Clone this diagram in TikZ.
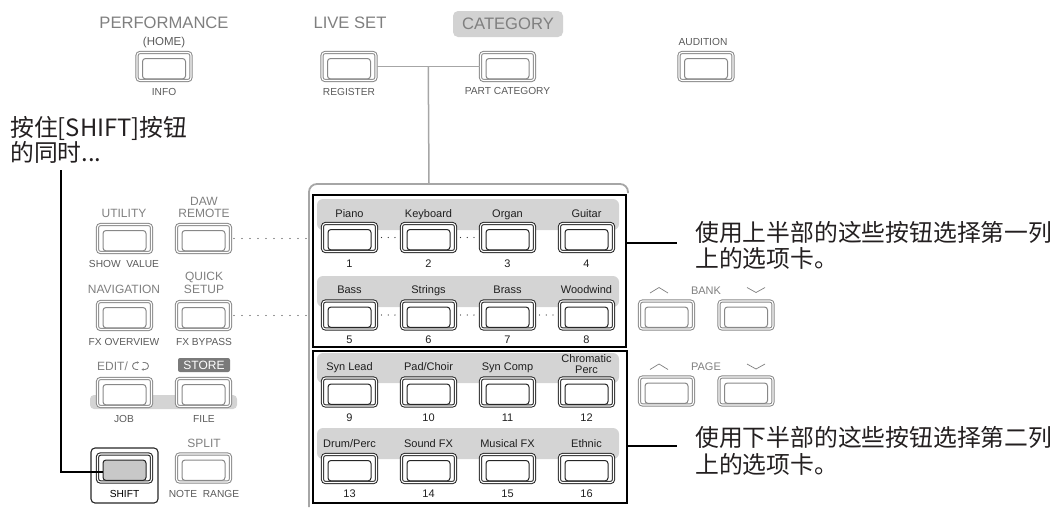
\documentclass[tikz,border=0pt]{standalone}
\usepackage{fontspec}
\setmainfont{Liberation Sans}
\newfontfamily\cjk{Noto Sans CJK SC}
\usetikzlibrary{arrows.meta,calc}
\definecolor{gtext}{HTML}{7F7F7F}
\definecolor{stext}{HTML}{5A5A5A}
\definecolor{bgray}{HTML}{888888}
\definecolor{bandgray}{HTML}{D4D4D4}
\definecolor{pgray}{HTML}{A6A6A6}
\definecolor{cntext}{HTML}{231F20}
\definecolor{storegray}{HTML}{7A7A7A}
\definecolor{catbox}{HTML}{D2D2D2}
\definecolor{shiftface}{HTML}{C8C8C8}
\begin{document}
\begin{tikzpicture}[x=1pt,y=-1pt,
  big/.style={font=\fontsize{16.6}{18}\selectfont, text=gtext, anchor=base, inner sep=0},
  mid/.style={font=\fontsize{12}{13}\selectfont, text=gtext, anchor=base, inner sep=0},
  small/.style={font=\fontsize{10.2}{11}\selectfont, text=stext, anchor=base, inner sep=0},
  catlab/.style={font=\fontsize{11}{12}\selectfont, text=black!88, anchor=base, inner sep=0},
  cn/.style={font=\cjk\fontsize{23.8}{26}\selectfont, text=cntext, anchor=base west, inner sep=0},
  btn/.style={draw=#1, double=white, double distance=1.1pt, line width=1pt,
    rounded corners=3pt, minimum width=54pt, minimum height=28pt, inner sep=0, fill=white,
    path picture={\draw[#1, line width=1pt]
      ([xshift=5.5pt,yshift=-6pt]path picture bounding box.north west) rectangle
      ([xshift=-5.5pt,yshift=1.6pt]path picture bounding box.south east);}},
  btn/.default=bgray,
  shiftbtn/.style={draw=black!85, double=white, double distance=1.1pt, line width=1.1pt,
    rounded corners=3pt, minimum width=54pt, minimum height=28pt, inner sep=0, fill=white,
    path picture={\filldraw[fill=shiftface, draw=black!85, line width=1pt]
      ([xshift=5.5pt,yshift=-6pt]path picture bounding box.north west) rectangle
      ([xshift=-5.5pt,yshift=1.6pt]path picture bounding box.south east);}},
  band/.style={fill=bandgray, rounded corners=6pt},
  dotl/.style={line width=1.3pt, line cap=round, dash pattern=on 0pt off 8pt, black!80},
  dots/.style={line width=1.3pt, line cap=round, dash pattern=on 0pt off 6.7pt, black!80, shorten <=4.5pt, shorten >=4pt},
  gline/.style={pgray, line width=1.5pt},
  blk/.style={black, line width=2pt}
]
\useasboundingbox (0,0) rectangle (1064,507);

% ---------- top row ----------
\node[big] (perf) at (164,28) {PERFORMANCE};
\node[font=\fontsize{11.5}{12}\selectfont, text=stext, anchor=base, inner sep=0] (home) at (164,45) {(HOME)};
\node[btn] (perfb) at (164,66.5) {};
\node[small] (info) at (164,95) {INFO};

\node[big] (live) at (350,28) {LIVE SET};
\node[btn] (liveb) at (349,66.5) {};
\node[small] (reg) at (349,95) {REGISTER};

\node[fill=catbox, rounded corners=5pt, minimum width=110pt, minimum height=26pt, inner sep=0,
  text=gtext, font=\fontsize{16.6}{18}\selectfont] (cat) at (508,24) {CATEGORY};
\node[btn] (catb) at (507.5,66.5) {};
\node[small] (pcat) at (507.5,94) {PART CATEGORY};

\node[small] (aud) at (703,45) {AUDITION};
\node[btn] (audb) at (706,66.5) {};

\draw[gline] (liveb.east) -- (catb.west);
\coordinate (ptop) at (429,184);
\draw[gline] ($(liveb.east)!0.5!(catb.west)$) -- (ptop);

% ---------- panel outline and frames ----------
\draw[pgray, line width=1.8pt, rounded corners=8pt] (309,507) -- (309,184) -- (628,184) -- (628,193);
\fill[band] (317,199) rectangle (619,230);
\fill[band] (317,276) rectangle (619,307);
\fill[band] (317,353) rectangle (619,383);
\fill[band] (317,428) rectangle (619,459);
\node[draw, line width=2pt, minimum width=313pt, minimum height=152pt, inner sep=0] (upper) at (469.5,271) {};
\node[draw, line width=2pt, minimum width=314pt, minimum height=152pt, inner sep=0] (lower) at (470,427) {};

% ---------- category buttons ----------
\foreach \lab/\n [count=\c from 0] in {Piano/1,Keyboard/2,Organ/3,Guitar/4} {
  \node[btn=black!85] (b\n) at (349.5+79*\c,237.5) {};
  \node[catlab] (l\n) at (349.5+79*\c,217) {\lab};
  \node[catlab] (n\n) at (349.5+79*\c,267) {\n};
}
\foreach \lab/\n [count=\c from 0] in {Bass/5,Strings/6,Brass/7,Woodwind/8} {
  \node[btn=black!85] (b\n) at (349.5+79*\c,315) {};
  \node[catlab] (l\n) at (349.5+79*\c,293) {\lab};
  \node[catlab] (n\n) at (349.5+79*\c,343) {\n};
}
\foreach \lab/\n [count=\c from 0] in {Syn Lead/9,{Pad/Choir}/10,Syn Comp/11} {
  \node[btn=black!85] (b\n) at (349.5+79*\c,392) {};
  \node[catlab] (l\n) at (349.5+79*\c,370) {\lab};
  \node[catlab] (n\n) at (349.5+79*\c,421) {\n};
}
\node[btn=black!85] (b12) at (586.5,392) {};
\node[catlab] (l12a) at (586.5,362) {Chromatic};
\node[catlab] (l12b) at (586.5,373) {Perc};
\node[catlab] (n12) at (586.5,421) {12};
\foreach \lab/\n [count=\c from 0] in {{Drum/Perc}/13,Sound FX/14,Musical FX/15,Ethnic/16} {
  \node[btn=black!85] (b\n) at (349.5+79*\c,468.5) {};
  \node[catlab] (l\n) at (349.5+79*\c,447) {\lab};
  \node[catlab] (n\n) at (349.5+79*\c,497) {\n};
}
\draw[dots] (b1.east) -- (b2.west);
\draw[dots] (b2.east) -- (b3.west);
\draw[dots] (b5.east) -- (b6.west);
\draw[dots] (b6.east) -- (b7.west);
\draw[dots] (b7.east) -- (b8.west);

% ---------- left column ----------
\node[mid] (util) at (124,217) {UTILITY};
\node[btn] (utilb) at (124.5,238.5) {};
\node[small] (showv) at (124,267) {SHOW\ \ VALUE};
\node[mid] (daw1) at (204,205) {DAW};
\node[mid] (daw2) at (204,217) {REMOTE};
\node[btn] (dawb) at (203.5,238.5) {};

\node[mid] (nav) at (124,293) {NAVIGATION};
\node[btn] (navb) at (124.5,315.5) {};
\node[small] (fxo) at (124,345) {FX OVERVIEW};
\node[mid] (qs1) at (204,280) {QUICK};
\node[mid] (qs2) at (204,293) {SETUP};
\node[btn] (qsb) at (203.5,315.5) {};
\node[small] (fxb) at (204,345) {FX BYPASS};

\coordinate (pl) at (306,0);
\draw[dotl, shorten <=3pt] (dawb.east) -- (dawb.east -| pl);
\draw[dotl, shorten <=3pt] (qsb.east) -- (qsb.east -| pl);

\fill[bandgray, rounded corners=4pt] (90,395) rectangle (237,409);
\node[mid, anchor=base west] (edit) at (97,370) {EDIT/};
\draw[gtext, line width=0.9pt, -{Stealth[length=2.2pt,width=2.6pt]}] (138,369.5) -- (136,369.5) arc[start angle=90, end angle=270, radius=3.5] -- (139,362.5);
\draw[gtext, line width=0.9pt, -{Stealth[length=2.2pt,width=2.6pt]}] (142.5,362.5) -- (145,362.5) arc[start angle=270, end angle=450, radius=3.5] -- (141.5,369.5);
\node[fill=storegray, rounded corners=2pt, minimum width=52pt, minimum height=14pt, inner sep=0,
  text=white, font=\fontsize{12}{13}\selectfont] (store) at (204,365) {STORE};
\node[btn] (editb) at (124.5,392.5) {};
\node[btn] (storeb) at (203.5,392.5) {};
\node[small] (job) at (124,422) {JOB};
\node[small] (file) at (204,422) {FILE};

\node[mid] (split) at (204,447) {SPLIT};
\node[btn] (splitb) at (203.5,468) {};
\node[small] (nr) at (204,497) {NOTE\ \ RANGE};
\node[draw=black!85, line width=1.1pt, rounded corners=4pt, minimum width=67pt, minimum height=55pt, inner sep=0] (shiftfr) at (124.5,475.5) {};
\node[shiftbtn] (shiftb) at (124.5,468) {};
\node[small, text=black] (shiftl) at (124.5,497) {SHIFT};

% hold shift text and line
\node[cn] (hold1) at (10,136) {按住[SHIFT]按钮};
\node[cn] (hold2) at (10,161) {的同时...};
\coordinate (hs) at (61,170);
\coordinate (he) at (103,472);
\draw[black, line width=2.4pt] (hs) |- (he);

% ---------- right side ----------
\node[btn] (bkup) at (666.5,315) {};
\node[btn] (bkdn) at (746,315) {};
\node[font=\fontsize{11}{12}\selectfont, text=gtext, anchor=base, inner sep=0] (bank) at (706,294) {BANK};
\draw[gtext, line width=0.7pt] (650,293) -- (659,287.5) -- (668,293);
\draw[gtext, line width=0.7pt] (747,287.5) -- (756,292.5) -- (765,287.5);
\node[btn] (pgup) at (666.5,391) {};
\node[btn] (pgdn) at (746,391) {};
\node[font=\fontsize{11}{12}\selectfont, text=gtext, anchor=base, inner sep=0] (page) at (706,370) {PAGE};
\draw[gtext, line width=0.7pt] (650,369.5) -- (659,364) -- (668,369.5);
\draw[gtext, line width=0.7pt] (747,364) -- (756,369) -- (765,364);

\coordinate (c1) at (677,243);
\coordinate (c2) at (677,446);
\draw[blk] (c1 -| upper.east) -- (c1);
\draw[blk] (c2 -| lower.east) -- (c2);
\node[cn] (t1a) at (695,241) {使用上半部的这些按钮选择第一列};
\node[cn] (t1b) at (695,267) {上的选项卡。};
\node[cn] (t2a) at (695,446) {使用下半部的这些按钮选择第二列};
\node[cn] (t2b) at (695,473) {上的选项卡。};
\end{tikzpicture}
\end{document}
